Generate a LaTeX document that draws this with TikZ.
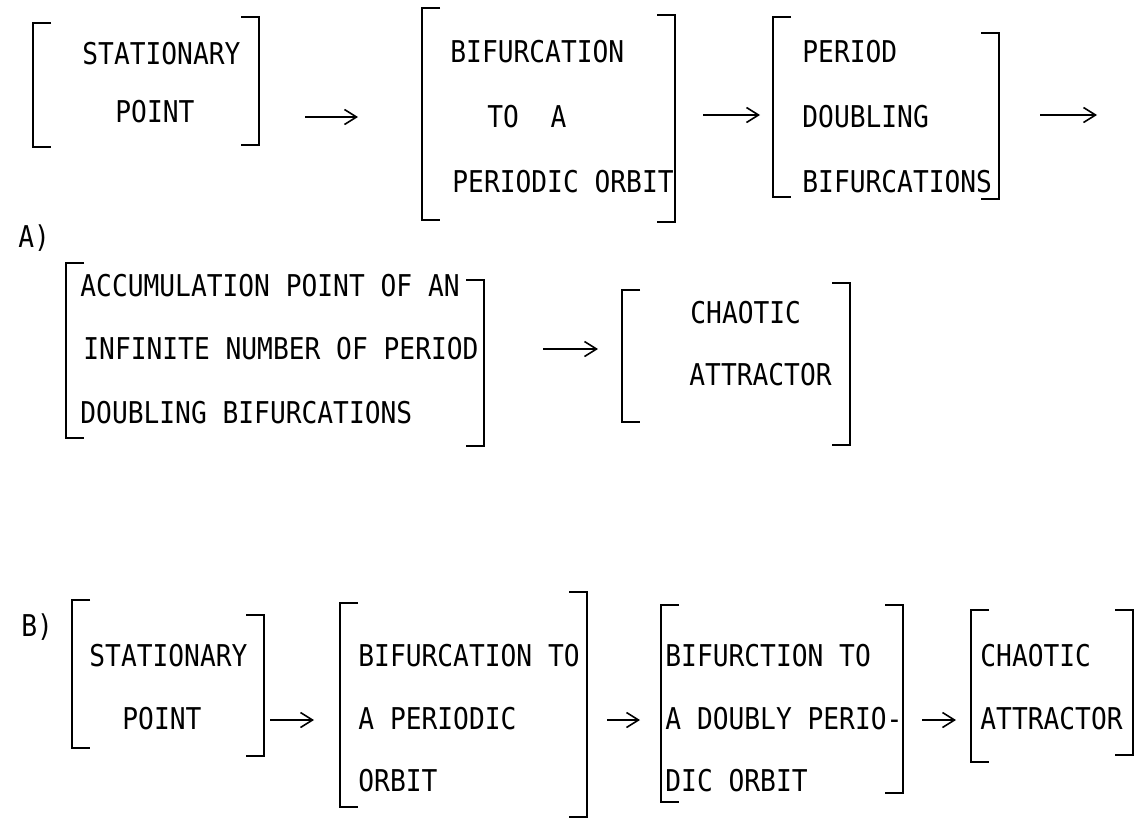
\documentclass[tikz,border=0pt]{standalone}
\usepackage{fontspec}
\newfontfamily\tw[FakeStretch=0.875]{DejaVu Sans Mono}
\usetikzlibrary{arrows.meta}
\newcommand\lbk[3]{\draw[brk] (#1+18,#2) -- (#1,#2) -- (#1,#3) -- (#1+18,#3);}
\newcommand\rbk[3]{\draw[brk] (#1-18,#2) -- (#1,#2) -- (#1,#3) -- (#1-18,#3);}
\begin{document}
\begin{tikzpicture}[x=0.5pt,y=-0.5pt,
  lbl/.style={anchor=base west, inner sep=0pt, font=\tw\fontsize{15}{18}\selectfont},
  brk/.style={line width=1.1pt, line join=miter},
  arr/.style={line width=0.7pt, -{Straight Barb[length=6pt,width=7.5pt,line width=0.8pt]}}]
\useasboundingbox (0,0) rectangle (1146,820);
% ---------- row A, first line
\node[lbl] (s1) at (82,64) {STATIONARY};
\node[lbl] (p1) at (115,122) {POINT};
\lbk{33}{23}{147} \rbk{259}{17}{145}
\node[lbl] (b2a) at (450,62) {BIFURCATION};
\node[lbl] (b2b) at (487,127) {TO\ \ A};
\node[lbl] (b2c) at (452,192) {PERIODIC ORBIT};
\lbk{422}{8}{220} \rbk{675}{15}{222}
\node[lbl] (b3a) at (802,62) {PERIOD};
\node[lbl] (b3b) at (802,127) {DOUBLING};
\node[lbl] (b3c) at (802,192) {BIFURCATIONS};
\lbk{773}{17}{197} \rbk{999}{33}{199}
\coordinate (a1s) at (305,117); \coordinate (a1e) at (358,117);
\coordinate (a2s) at (703,115); \coordinate (a2e) at (760,115);
\coordinate (a3s) at (1040,115); \coordinate (a3e) at (1097,115);
\draw[arr] (a1s) -- (a1e);
\draw[arr] (a2s) -- (a2e);
\draw[arr] (a3s) -- (a3e);
\node[lbl] (la) at (18,247) {A)};
% ---------- row A, second line
\node[lbl] (b4a) at (80,296) {ACCUMULATION POINT OF AN};
\node[lbl] (b4b) at (83,359) {INFINITE NUMBER OF PERIOD};
\node[lbl] (b4c) at (80,423) {DOUBLING BIFURCATIONS};
\lbk{66}{263}{438} \rbk{484}{280}{446}
\node[lbl] (b5a) at (690,323) {CHAOTIC};
\node[lbl] (b5b) at (689,385) {ATTRACTOR};
\lbk{622}{290}{422} \rbk{850}{283}{445}
\coordinate (a4s) at (543,349); \coordinate (a4e) at (598,349);
\draw[arr] (a4s) -- (a4e);
% ---------- row B
\node[lbl] (lb) at (21,636) {B)};
\node[lbl] (b6a) at (89,666) {STATIONARY};
\node[lbl] (b6b) at (122,729) {POINT};
\lbk{72}{600}{748} \rbk{264}{615}{756}
\node[lbl] (b7a) at (358,666) {BIFURCATION TO};
\node[lbl] (b7b) at (358,729) {A PERIODIC};
\node[lbl] (b7c) at (358,791) {ORBIT};
\lbk{340}{603}{807} \rbk{587}{592}{817}
\node[lbl] (b8a) at (665,666) {BIFURCTION TO};
\node[lbl] (b8b) at (665,729) {A DOUBLY PERIO-};
\node[lbl] (b8c) at (665,791) {DIC ORBIT};
\lbk{661}{605}{802} \rbk{903}{605}{793}
\node[lbl] (b9a) at (980,666) {CHAOTIC};
\node[lbl] (b9b) at (980,729) {ATTRACTOR};
\lbk{971}{610}{762} \rbk{1133}{610}{755}
\coordinate (a5s) at (270,720); \coordinate (a5e) at (314,720);
\coordinate (a6s) at (607,720); \coordinate (a6e) at (640,720);
\coordinate (a7s) at (922,720); \coordinate (a7e) at (956,720);
\draw[arr] (a5s) -- (a5e);
\draw[arr] (a6s) -- (a6e);
\draw[arr] (a7s) -- (a7e);
\end{tikzpicture}
\end{document}
